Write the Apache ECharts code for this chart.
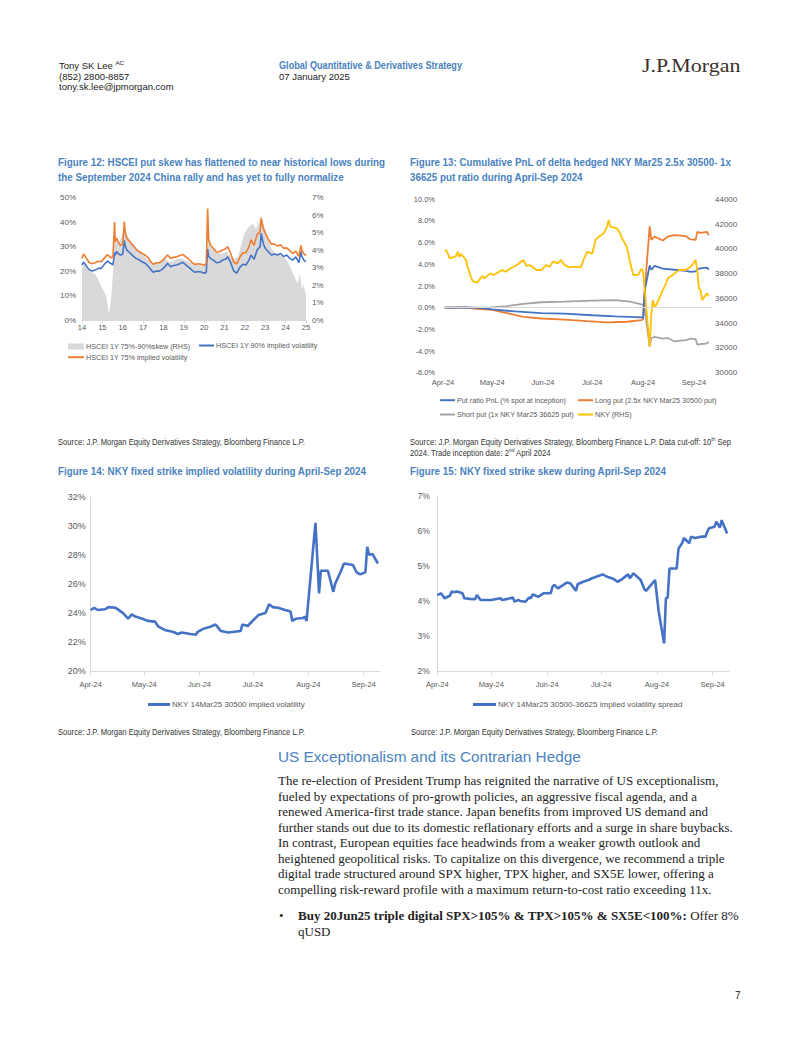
<!DOCTYPE html>
<html><head><meta charset="utf-8">
<script src="https://cdn.jsdelivr.net/npm/echarts@6/dist/echarts.min.js"></script>
<style>
body{margin:0;background:#fff;}
#page{position:relative;width:802px;height:1037px;overflow:hidden;background:#fff;}
#chart{position:absolute;left:0;top:0;width:802px;height:1037px;}
.t{position:absolute;white-space:nowrap;font-family:"Liberation Sans",Arial,sans-serif;}
.hd{font-size:9.5px;color:#222;line-height:10.5px;}
.blue{color:#4A82BE;}
.figt{font-weight:bold;font-size:11.5px;line-height:15px;color:#4A82BE;}
.src{font-size:8.5px;line-height:10.5px;color:#333;}
.para{font-family:"Liberation Serif","Times New Roman",serif;font-size:13px;line-height:15.55px;color:#222;}
sup{font-size:65%;line-height:0;vertical-align:super;}
</style></head><body><div id="page">
<div id="chart"></div>

<div class="t hd" style="left:59px;top:61px;">Tony SK Lee <sup>AC</sup><br>(852) 2800-8857<br>tony.sk.lee@jpmorgan.com</div>
<div class="t hd blue" style="left:279px;top:61px;font-weight:bold;font-size:10px;" data-w="183">Global Quantitative &amp; Derivatives Strategy</div>
<div class="t hd" style="left:279px;top:71.5px;">07 January 2025</div>
<div class="t" style="left:641.7px;top:55px;font-family:'Liberation Serif','Times New Roman',serif;font-size:19px;line-height:22px;color:#3b302c;" data-w="98.5">J.P.Morgan</div>

<div class="t figt" style="left:58px;top:155px;" data-w="327">Figure 12: HSCEI put skew has flattened to near historical lows during<br>the September 2024 China rally and has yet to fully normalize</div>
<div class="t figt" style="left:410px;top:155px;" data-w="321">Figure 13: Cumulative PnL of delta hedged NKY Mar25 2.5x 30500- 1x<br>36625 put ratio during April-Sep 2024</div>

<div class="t src" style="left:58px;top:437px;" data-w="247">Source: J.P. Morgan Equity Derivatives Strategy, Bloomberg Finance L.P.</div>
<div class="t src" style="left:410px;top:437px;" data-w="321">Source: J.P. Morgan Equity Derivatives Strategy, Bloomberg Finance L.P. Data cut-off: 10<sup>th</sup> Sep<br>2024. Trade inception date: 2<sup>nd</sup> April 2024</div>

<div class="t figt" style="left:58px;top:464px;" data-w="308">Figure 14: NKY fixed strike implied volatility during April-Sep 2024</div>
<div class="t figt" style="left:410px;top:464px;" data-w="256">Figure 15: NKY fixed strike skew during April-Sep 2024</div>

<div class="t src" style="left:58px;top:727px;" data-w="247">Source: J.P. Morgan Equity Derivatives Strategy, Bloomberg Finance L.P.</div>
<div class="t src" style="left:410.5px;top:727px;" data-w="247">Source: J.P. Morgan Equity Derivatives Strategy, Bloomberg Finance L.P.</div>

<div class="t" style="left:278px;top:748.3px;font-size:15.3px;line-height:18px;color:#4A82BE;">US Exceptionalism and its Contrarian Hedge</div>
<div class="t para" style="left:278px;top:773.2px;">The re-election of President Trump has reignited the narrative of US exceptionalism,<br>fueled by expectations of pro-growth policies, an aggressive fiscal agenda, and a<br>renewed America-first trade stance. Japan benefits from improved US demand and<br>further stands out due to its domestic reflationary efforts and a surge in share buybacks.<br>In contrast, European equities face headwinds from a weaker growth outlook and<br>heightened geopolitical risks. To capitalize on this divergence, we recommend a triple<br>digital trade structured around SPX higher, TPX higher, and SX5E lower, offering a<br>compelling risk-reward profile with a maximum return-to-cost ratio exceeding 11x.</div>
<div class="t para" style="left:279px;top:908.2px;">&#8226;</div>
<div class="t para" style="left:298px;top:908.2px;"><b>Buy 20Jun25 triple digital SPX&gt;105% &amp; TPX&gt;105% &amp; SX5E&lt;100%:</b> Offer 8%<br>qUSD</div>
<div class="t" style="left:735px;top:990px;font-size:10px;line-height:12px;color:#222;">7</div>
</div>

<script>
// fit condensed-looking text widths (no narrow font installed)
document.querySelectorAll('[data-w]').forEach(function (el) {
  var w = el.getBoundingClientRect().width;
  el.style.transformOrigin = '0 0';
  el.style.transform = 'scaleX(' + (+el.getAttribute('data-w') / w) + ')';
});

// ---------- Figure 12 data (x = decimal year) ----------
const f12Years = [2014.0,2014.08,2014.2,2014.35,2014.5,2014.65,2014.8,2014.95,2015.1,2015.25,2015.4,2015.52,2015.6,2015.63,2015.7,2015.8,2015.9,2016.0,2016.08,2016.12,2016.2,2016.35,2016.5,2016.65,2016.8,2016.95,2017.1,2017.25,2017.4,2017.5,2017.65,2017.8,2017.95,2018.1,2018.2,2018.35,2018.5,2018.65,2018.8,2018.95,2019.1,2019.25,2019.4,2019.55,2019.7,2019.85,2020.0,2020.1,2020.17,2020.22,2020.3,2020.45,2020.6,2020.75,2020.9,2021.05,2021.15,2021.3,2021.45,2021.6,2021.75,2021.9,2022.05,2022.2,2022.3,2022.45,2022.6,2022.75,2022.8,2022.9,2023.0,2023.15,2023.3,2023.45,2023.6,2023.75,2023.9,2024.05,2024.2,2024.35,2024.5,2024.65,2024.75,2024.8,2024.9,2025.0];
const f12Vol90 = [22.5,23.6,22.3,20.6,20.0,20.4,21.1,21.1,22.8,24.1,23.2,22.5,27.5,26.5,28.0,27.0,26.5,27.0,32.5,30.5,28.6,27.5,26.2,25.2,24.6,23.8,23.2,22.0,20.4,19.5,20.0,20.0,20.8,22.0,23.2,21.8,22.3,22.5,23.0,23.6,22.5,21.5,20.4,19.5,19.8,19.6,19.1,19.5,29.0,26.0,25.2,24.5,23.4,23.6,24.5,24.8,25.9,23.5,20.0,19.2,21.5,22.8,22.5,24.5,26.6,24.8,28.6,30.0,35.4,31.3,29.3,27.9,26.6,27.0,26.6,27.2,25.9,26.6,25.2,24.5,25.8,23.5,28.0,25.9,24.5,23.8];
const f12Vol75 = [25.2,27.0,25.5,23.5,23.0,23.4,24.0,23.8,25.3,26.8,25.5,25.8,40.0,32.0,33.5,31.5,30.5,31.0,40.2,36.0,33.4,32.0,30.5,29.0,28.0,27.2,26.5,25.5,23.6,22.8,23.4,23.4,24.3,25.6,26.6,25.2,25.6,25.8,26.4,26.8,25.8,24.8,23.6,22.7,23.0,22.8,22.4,23.0,45.6,33.0,30.7,29.3,27.8,27.9,28.6,29.0,30.0,27.2,23.6,22.9,25.6,27.5,27.5,30.0,32.8,30.5,35.0,36.0,41.6,37.5,35.5,33.0,31.0,31.0,30.3,30.8,29.3,29.5,28.4,27.2,28.2,26.0,30.5,28.5,27.0,26.3];
const f12SkewYears = [2014.0,2014.1,2014.3,2014.5,2014.65,2014.8,2014.95,2015.1,2015.2,2015.28,2015.33,2015.4,2015.48,2015.55,2015.6,2015.7,2015.8,2015.95,2016.05,2016.12,2016.25,2016.4,2016.55,2016.7,2016.9,2017.1,2017.3,2017.5,2017.7,2017.9,2018.1,2018.3,2018.5,2018.7,2018.9,2019.1,2019.3,2019.5,2019.7,2019.9,2020.1,2020.17,2020.25,2020.4,2020.55,2020.7,2020.9,2021.1,2021.3,2021.5,2021.65,2021.8,2021.95,2022.1,2022.25,2022.4,2022.55,2022.7,2022.8,2022.9,2023.0,2023.15,2023.3,2023.5,2023.7,2023.9,2024.05,2024.2,2024.35,2024.5,2024.6,2024.68,2024.75,2024.8,2024.88,2024.95,2025.0];
const f12Skew = [2.9,3.2,2.9,2.7,2.6,2.3,1.9,1.6,1.3,0.6,0.4,0.9,2.0,3.2,4.9,4.6,4.4,4.8,5.2,5.0,4.8,4.5,4.3,4.1,3.8,3.6,3.4,3.2,3.3,3.4,3.5,3.3,3.4,3.5,3.5,3.4,3.3,3.2,3.2,3.1,3.2,5.8,4.6,4.2,3.9,3.8,3.8,3.9,3.6,3.5,3.6,4.2,4.9,5.2,5.4,5.5,5.2,5.6,6.0,5.5,5.2,4.6,4.1,3.8,3.7,3.6,3.4,3.1,2.7,2.3,2.1,2.6,2.3,1.7,2.1,1.6,1.5];
const f12YearTicks = ['14','15','16','17','18','19','20','21','22','23','24','25'];

// ---------- Figure 13 data (2024 dates) ----------
const f13NkyDates = ['04-02','04-03','04-04','04-05','04-08','04-09','04-10','04-11','04-12','04-15','04-16','04-18','04-19','04-22','04-23','04-25','04-26','04-30','05-02','05-07','05-09','05-14','05-16','05-20','05-22','05-24','05-28','05-31','06-03','06-05','06-07','06-10','06-12','06-14','06-17','06-21','06-24','06-26','06-28','07-01','07-03','07-05','07-08','07-10','07-11','07-12','07-16','07-18','07-19','07-22','07-24','07-26','07-29','07-31','08-01','08-02','08-05','08-06','08-07','08-08','08-09','08-13','08-15','08-16','08-19','08-21','08-23','08-27','08-30','09-02','09-03','09-04','09-05','09-06','09-09','09-10'];
const f13Nky = [39900,39850,39600,39230,39350,39420,39770,39350,39600,39100,38560,37750,37400,37270,37500,37810,37600,38020,37890,38290,38156,38560,38695,39100,38614,38695,38290,38290,38700,38560,38964,38829,39100,38695,38506,38560,38506,39234,39772,39600,40715,40984,41250,41800,42330,41792,41657,41253,40900,40176,38964,37887,37900,38400,38160,36675,32097,34800,35867,35300,35463,36675,37214,37600,37887,38100,38291,38291,38560,39099,38291,36810,36675,35867,36406,36190];
const f13PnlDates = ['04-02','04-15','04-25','05-01','05-15','05-31','06-14','07-01','07-15','07-24','07-31','08-01','08-02','08-05','08-06','08-08','08-13','08-20','08-27','08-30','09-02','09-04','09-06','09-09','09-10'];
const f13Ratio = [0,0.02,-0.05,-0.15,-0.35,-0.5,-0.55,-0.7,-0.8,-0.85,-0.9,-0.95,1.6,3.9,3.5,3.85,3.6,3.5,3.4,3.3,3.35,3.6,3.65,3.7,3.5];
const f13LongDates = ['04-02','04-15','04-22','05-01','05-10','05-20','05-31','06-14','06-28','07-10','07-22','07-31','08-01','08-02','08-05','08-06','08-08','08-13','08-16','08-20','08-27','08-30','09-02','09-03','09-05','09-09','09-10'];
const f13Long = [0,0,-0.1,-0.2,-0.5,-0.85,-1.0,-1.1,-1.25,-1.35,-1.3,-1.15,-1.05,1.6,7.5,6.25,6.55,6.2,6.55,6.7,6.6,6.3,6.25,7.0,6.9,7.0,6.7];
const f13ShortDates = ['04-02','04-30','05-10','05-20','05-31','06-14','07-01','07-15','07-24','07-31','08-01','08-02','08-05','08-06','08-08','08-13','08-16','08-20','08-27','08-30','09-02','09-03','09-06','09-09','09-10'];
const f13Short = [0,0.02,0.15,0.35,0.5,0.55,0.65,0.7,0.55,0.3,0.25,-0.2,-3.6,-2.8,-2.7,-2.85,-2.8,-3.1,-3.0,-2.85,-2.9,-3.4,-3.35,-3.3,-3.15];

// ---------- Figure 14 data ----------
const f14Dates = ['04-01','04-03','04-05','04-09','04-11','04-15','04-19','04-22','04-24','04-26','04-30','05-03','05-07','05-09','05-13','05-17','05-20','05-22','05-27','05-30','05-31','06-03','06-07','06-10','06-13','06-17','06-24','06-25','06-28','07-02','07-04','07-08','07-10','07-12','07-15','07-19','07-22','07-23','07-25','07-29','07-30','07-31','08-05','08-07','08-08','08-12','08-15','08-16','08-19','08-21','08-26','08-28','08-30','09-02','09-03','09-04','09-06','09-09'];
const f14Vol = [24.2,24.35,24.2,24.25,24.4,24.35,24.0,23.6,23.9,23.75,23.6,23.45,23.4,23.05,22.8,22.7,22.55,22.65,22.55,22.5,22.7,22.9,23.05,23.2,22.75,22.65,22.75,23.2,23.1,23.6,23.85,24.0,24.6,24.4,24.35,24.2,24.1,23.45,23.6,23.65,23.75,23.45,30.2,25.35,26.9,26.9,25.45,26.0,26.8,27.4,27.3,26.8,26.65,26.8,28.55,28.0,28.05,27.4];

// ---------- Figure 15 data ----------
const f15Dates = ['04-01','04-03','04-05','04-08','04-09','04-10','04-12','04-15','04-16','04-19','04-22','04-23','04-25','05-01','05-06','05-07','05-10','05-13','05-14','05-16','05-17','05-20','05-22','05-23','05-24','05-27','05-30','06-03','06-04','06-05','06-07','06-10','06-12','06-14','06-17','06-18','06-21','06-24','06-26','07-01','07-02','07-04','07-08','07-10','07-12','07-16','07-17','07-19','07-23','07-25','07-26','07-31','08-02','08-05','08-06','08-07','08-08','08-12','08-13','08-15','08-16','08-19','08-20','08-22','08-26','08-28','08-29','08-30','09-02','09-03','09-05','09-06','09-09'];
const f15Skew = [4.17,4.22,4.08,4.15,4.27,4.25,4.27,4.22,4.08,4.06,4.05,4.17,4.03,4.03,4.08,4.03,4.06,4.1,3.98,4.03,4.0,3.98,4.1,4.08,4.19,4.12,4.22,4.22,4.41,4.46,4.36,4.46,4.53,4.5,4.29,4.48,4.55,4.6,4.65,4.74,4.76,4.7,4.63,4.55,4.6,4.76,4.65,4.79,4.6,4.34,4.29,4.6,3.7,2.79,4.08,4.1,4.93,4.93,5.5,5.65,5.8,5.65,5.84,5.8,5.84,5.84,5.98,6.08,6.12,6.27,6.1,6.31,5.93];

// ---------- helpers ----------
const MON = ['Jan','Feb','Mar','Apr','May','Jun','Jul','Aug','Sep','Oct','Nov','Dec'];
function dayList(m0, d0, m1, d1) {
  const out = [];
  for (let t = Date.UTC(2024, m0, d0); t <= Date.UTC(2024, m1, d1); t += 86400000) out.push(new Date(t).toISOString().slice(0, 10));
  return out;
}
const pairs = (xs, ys, pre) => xs.map((x, i) => [pre ? pre + x : x, ys[i]]);
const FONT = '"Liberation Sans", Arial, sans-serif';
const LBL = '#595959';
const AX = '#D9D9D9';
const monthFmt = v => MON[+v.slice(5, 7) - 1] + '-24';
const isMonthStart = (i, v) => v.slice(8) === '01';

const c13 = dayList(3, 1, 8, 12), c14 = dayList(3, 1, 8, 10), c15 = dayList(3, 1, 8, 10);

function catAxis(grid, cats, margin, showLine, fs) {
  return {
    type: 'category', gridIndex: grid, data: cats, boundaryGap: false,
    axisLine: { show: showLine, lineStyle: { color: AX, width: 1 } },
    axisTick: { show: showLine, interval: isMonthStart, length: 4, lineStyle: { color: AX } },
    axisLabel: { interval: isMonthStart, formatter: monthFmt, margin: margin, color: LBL, fontSize: fs, fontFamily: FONT },
    splitLine: { show: false }
  };
}
function valAxis(grid, min, max, step, fmt, pos, margin, showLine, fs) {
  return {
    type: 'value', gridIndex: grid, min: min, max: max, interval: step, position: pos,
    axisLine: { show: !!showLine, lineStyle: { color: AX } }, axisTick: { show: false },
    axisLabel: { formatter: fmt, margin: margin, color: LBL, fontSize: fs, fontFamily: FONT },
    splitLine: { show: false }
  };
}
function leg(name, left, top, w, h, fs) {
  return {
    data: [name], left: left, top: top, padding: 0, itemWidth: w, itemHeight: h, icon: 'rect',
    selectedMode: false, textStyle: { color: LBL, fontSize: fs, fontFamily: FONT, padding: [0, 0, 0, -3] }
  };
}
const line = (name, x, y, data, color, width) => ({
  name: name, type: 'line', xAxisIndex: x, yAxisIndex: y, data: data, showSymbol: false, symbol: 'none',
  lineStyle: { color: color, width: width }, itemStyle: { color: color }, animation: false
});

const chart = echarts.init(document.getElementById('chart'), null, { renderer: 'svg' });
const s13ratio = line('Put ratio PnL (% spot at inception)', 1, 2, pairs(f13PnlDates, f13Ratio, '2024-'), '#4472C4', 1.8);
s13ratio.markLine = { silent: true, symbol: 'none', label: { show: false }, lineStyle: { color: '#D9D9D9', width: 1, type: 'solid' }, data: [{ yAxis: 0 }], animation: false };

chart.setOption({
  animation: false,
  grid: [
    { left: 82, top: 197.7, width: 224, height: 122.3 },
    { left: 443, top: 199.3, width: 269, height: 173.4 },
    { left: 90.7, top: 496.7, width: 289, height: 174.3 },
    { left: 437.3, top: 496, width: 291.6, height: 175 }
  ],
  xAxis: [
    { type: 'value', gridIndex: 0, min: 2014, max: 2025, interval: 1,
      axisLine: { show: true, lineStyle: { color: AX } }, axisTick: { show: true, length: 3, lineStyle: { color: AX } },
      axisLabel: { formatter: v => f12YearTicks[Math.round(v - 2014)], margin: 3, color: LBL, fontSize: 7.5, fontFamily: FONT },
      splitLine: { show: false } },
    catAxis(1, c13, 6, false, 7.5),
    catAxis(2, c14, 9, true, 7.5),
    catAxis(3, c15, 9, true, 7.5)
  ],
  yAxis: [
    valAxis(0, 0, 50, 10, v => v + '%', 'left', 6, false, 8),
    valAxis(0, 0, 7, 1, v => v + '%', 'right', 6, false, 8),
    valAxis(1, -6, 10, 2, v => v.toFixed(1) + '%', 'left', 8, false, 7.5),
    valAxis(1, 30000, 44000, 2000, v => String(v), 'right', 3, false, 8),
    valAxis(2, 20, 32, 2, v => v + '%', 'left', 5, true, 9),
    valAxis(3, 2, 7, 1, v => v + '%', 'left', 7.5, true, 8.5)
  ],
  legend: [
    leg('HSCEI 1Y 75%-90%skew (RHS)', 68, 343, 16, 6, 7.2),
    leg('HSCEI 1Y 90% implied volatility', 199, 342, 15, 2, 7.2),
    leg('HSCEI 1Y 75% implied volatility', 68, 353.7, 16, 2, 7.2),
    leg('Put ratio PnL (% spot at inception)', 440, 396.7, 15, 2, 7.2),
    leg('Long put (2.5x NKY Mar25 30500 put)', 578, 396.7, 15, 2, 7.2),
    leg('Short put (1x NKY Mar25 36625 put)', 440, 411, 15, 2, 7.2),
    leg('NKY (RHS)', 578, 411, 15, 2, 7.2),
    leg('NKY 14Mar25 30500 implied volatility', 148, 700.5, 22, 3, 8),
    leg('NKY 14Mar25 30500-36625 implied volatility spread', 473, 700.5, 23, 3, 8)
  ],
  series: [
    { name: 'HSCEI 1Y 75%-90%skew (RHS)', type: 'line', xAxisIndex: 0, yAxisIndex: 1, data: pairs(f12SkewYears, f12Skew),
      showSymbol: false, symbol: 'none', lineStyle: { width: 0, color: '#D9D9D9' }, itemStyle: { color: '#D9D9D9' },
      areaStyle: { color: '#D9D9D9', opacity: 1 }, z: 1 },
    line('HSCEI 1Y 90% implied volatility', 0, 0, pairs(f12Years, f12Vol90), '#4472C4', 1.6),
    line('HSCEI 1Y 75% implied volatility', 0, 0, pairs(f12Years, f12Vol75), '#ED7D31', 1.6),

    line('Short put (1x NKY Mar25 36625 put)', 1, 2, pairs(f13ShortDates, f13Short, '2024-'), '#A5A5A5', 1.8),
    line('Long put (2.5x NKY Mar25 30500 put)', 1, 2, pairs(f13LongDates, f13Long, '2024-'), '#ED7D31', 1.8),
    s13ratio,
    line('NKY (RHS)', 1, 3, pairs(f13NkyDates, f13Nky, '2024-'), '#FFC000', 1.8),

    line('NKY 14Mar25 30500 implied volatility', 2, 4, pairs(f14Dates, f14Vol, '2024-'), '#4472C4', 2.6),
    line('NKY 14Mar25 30500-36625 implied volatility spread', 3, 5, pairs(f15Dates, f15Skew, '2024-'), '#4472C4', 2.6)
  ]
});
</script>
</body></html>
